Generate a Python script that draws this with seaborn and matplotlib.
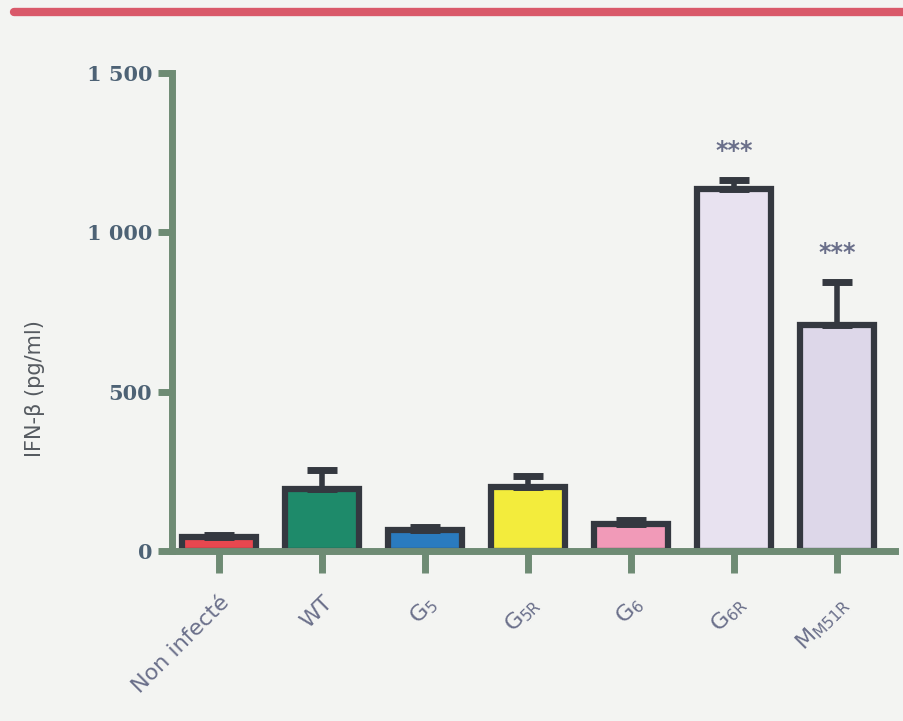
import matplotlib
matplotlib.use("Agg")
import matplotlib.pyplot as plt
import seaborn as sns
import pandas as pd
import numpy as np

categories = ["Non infecté", "WT", "G5", "G5R", "G6", "G6R", "MM51R"]
tick_labels = ["Non infecté", "WT", r"$\mathrm{G_{5}}$", r"$\mathrm{G_{5R}}$",
               r"$\mathrm{G_{6}}$", r"$\mathrm{G_{6R}}$", r"$\mathrm{M_{M51R}}$"]
values = [45, 195, 65, 200, 85, 1135, 710]
errors = [6, 60, 10, 35, 12, 30, 135]
stars = ["", "", "", "", "", "***", "***"]
colors = ["#e8474f", "#1e8a6a", "#2a7bbf", "#f3ec3c", "#f19ab8", "#e8e2f0", "#ddd7e9"]

sns.set_style("white")
plt.rcParams['font.family'] = ['DejaVu Sans']
plt.rcParams['mathtext.fontset'] = 'dejavusans'

bg = "#f3f4f2"
axis_col = "#6e8b74"
edge = "#343840"
label_col = "#6a6f8a"

fig = plt.figure(figsize=(9.04, 7.21), dpi=100, facecolor=bg)
ax = fig.add_axes([0.19, 0.236, 0.80, 0.663], facecolor=bg)

df = pd.DataFrame({"cat": categories, "val": values})
sns.barplot(data=df, x="cat", y="val", hue="cat", palette=colors, legend=False,
            width=0.72, edgecolor=edge, linewidth=4.5, ax=ax, saturation=1)

x = np.arange(len(categories))
ax.errorbar(x, values, yerr=[np.zeros(len(values)), errors], fmt="none",
            ecolor=edge, elinewidth=4, capsize=11, capthick=5, zorder=1)

for xi, v, e, s in zip(x, values, errors, stars):
    if s:
        ax.text(xi, v + e + 90, s, ha="center", va="center", fontsize=17,
                color=label_col, fontweight="bold")

ax.set_ylim(0, 1500)
ax.set_xlim(-0.46, 6.56)
ax.set_yticks([0, 500, 1000, 1500])
ax.set_yticklabels(["0", "500", "1 000", "1 500"], fontsize=15, fontweight="bold",
                   color="#4d6275", family="DejaVu Serif")
ax.set_xticks(x)
ax.set_xticklabels(tick_labels, rotation=45, ha="right", rotation_mode="anchor",
                   fontsize=16, color=label_col)
ax.tick_params(axis="y", length=10, width=5, color=axis_col, pad=4, left=True)
ax.tick_params(axis="x", length=16, width=5, color=axis_col, pad=14, bottom=True, direction="out")

for sp in ["top", "right"]:
    ax.spines[sp].set_visible(False)
for sp in ["left", "bottom"]:
    ax.spines[sp].set_color(axis_col)
    ax.spines[sp].set_linewidth(5)

ax.set_xlabel("")
ax.set_ylabel("IFN-β (pg/ml)", fontsize=15, color="#555a60")
ax.yaxis.set_label_coords(-0.175, 0.34)

fig.add_artist(plt.Line2D([0.015, 1.0], [0.983, 0.983], color="#d9596a", linewidth=6,
                          transform=fig.transFigure))

fig.savefig("out.png", dpi=100, facecolor=bg)
